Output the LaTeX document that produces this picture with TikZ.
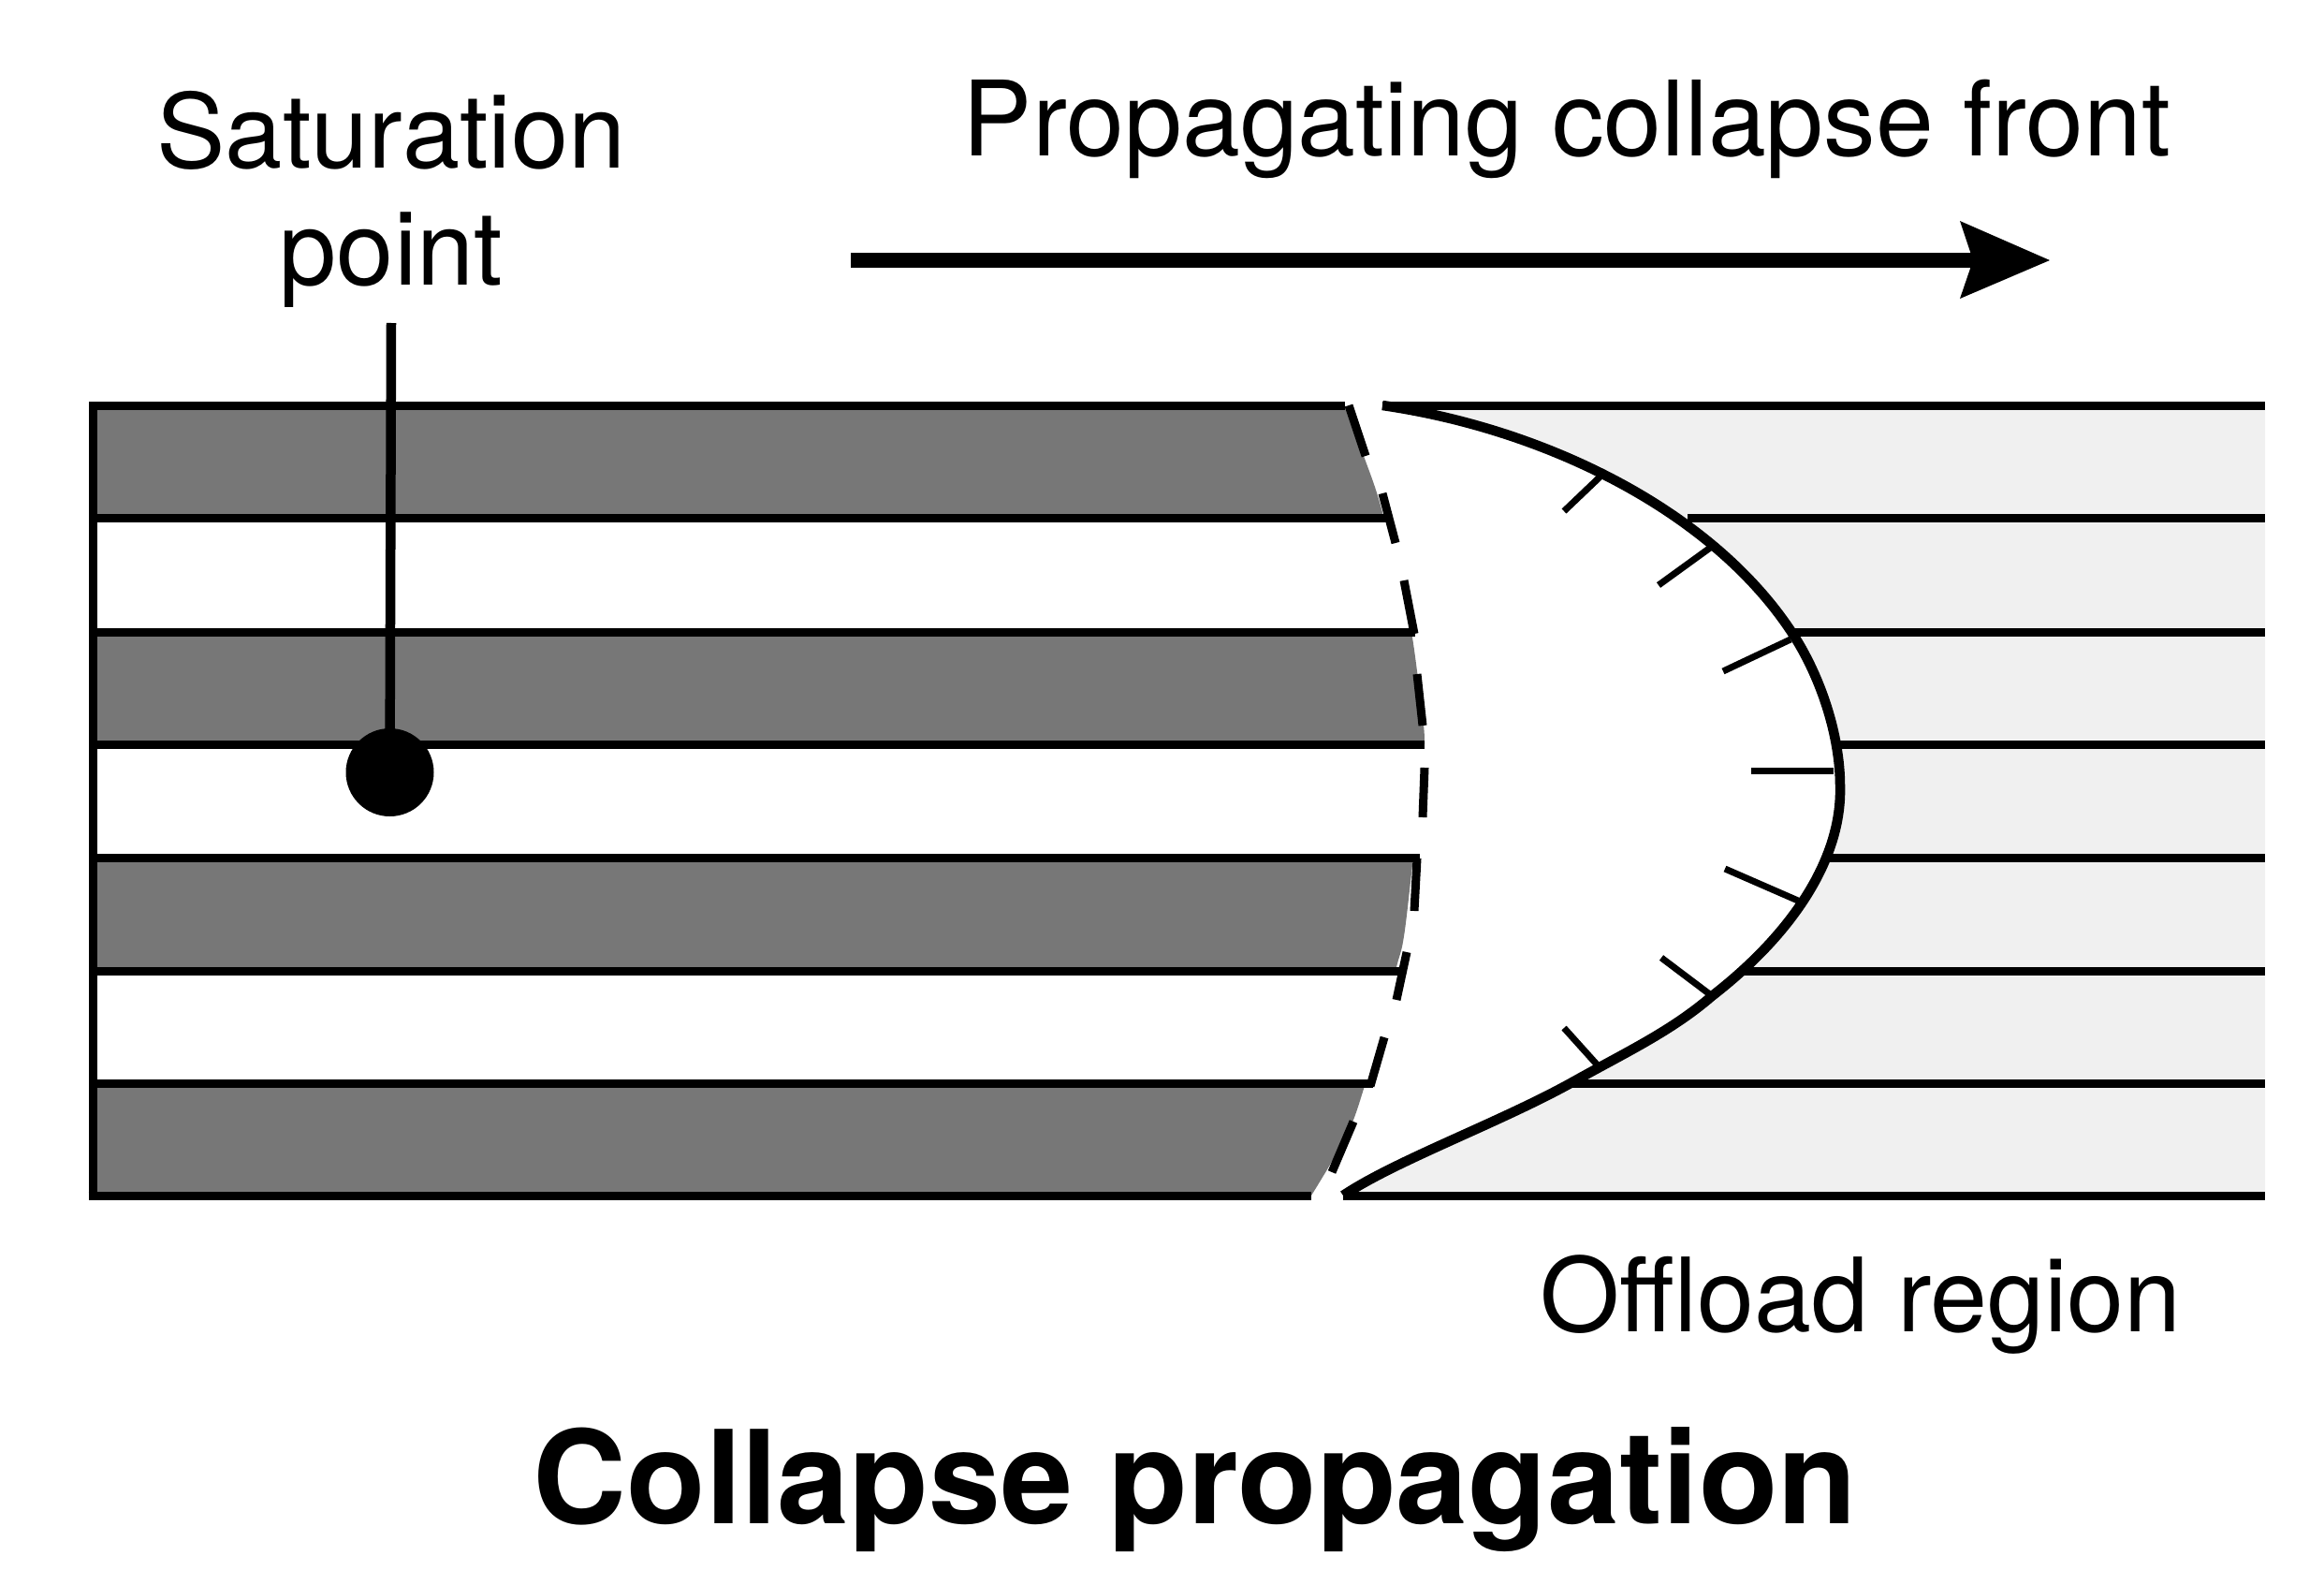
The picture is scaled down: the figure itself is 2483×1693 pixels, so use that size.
\documentclass[tikz,border=0pt]{standalone}
\usepackage{fontspec}
\setmainfont{TeX Gyre Heros}
\tikzset{
  lab/.style={inner sep=0pt,font=\fontsize{110}{130}\selectfont,align=center,text=black},
  ttl/.style={inner sep=0pt,font=\fontsize{138.3}{160}\selectfont\bfseries,text=black},
  band/.style={line width=9pt,draw=black},
  dsh/.style={line width=9pt,draw=black},
  tickm/.style={line width=7pt,draw=black},
}
\definecolor{darkband}{HTML}{777777}
\definecolor{lightband}{HTML}{F0F0F0}
\newcommand{\frontcurve}{(1477,433) .. controls (1650,458) and (1830,545) .. (1916,678) .. controls (1945,723) and (1966,785) .. (1966,840) .. controls (1968,915) and (1918,995) .. (1829,1064) .. controls (1785,1102) and (1735,1125) .. (1678,1157) .. controls (1600,1200) and (1490,1240) .. (1435,1277)}
\begin{document}
\begin{tikzpicture}[x=1pt,y=-1pt]
\useasboundingbox (0,0) rectangle (2483,1693);
% light region
\fill[lightband] \frontcurve -- (2420,1277) -- (2420,433) -- cycle;
% dark bands, cut off along the retreating edge
\begin{scope}
\clip (0,433) -- plot[smooth,tension=0.6] coordinates {(1437,433) (1457,487) (1475,540) (1497,630) (1508,675) (1518,750) (1522,795) (1518,860) (1510,916) (1500,1000) (1491,1037) (1470,1125) (1459,1157) (1440,1210) (1401,1277)} -- (0,1277) -- cycle;
\fill[darkband] (99,433) rectangle (1600,553);
\fill[darkband] (99,675) rectangle (1600,795);
\fill[darkband] (99,916) rectangle (1600,1037);
\fill[darkband] (99,1157) rectangle (1600,1277);
\end{scope}
% left lines
\draw[band] (1437,433) -- (94.5,433);
\draw[band] (99,433) -- (99,1281.5);
\draw[band] (99,553) -- (1482,553);
\draw[band] (99,675) -- (1512,675);
\draw[band] (99,795) -- (1522,795);
\draw[band] (99,916) -- (1517,916);
\draw[band] (99,1037) -- (1497,1037);
\draw[band] (99,1157) -- (1467,1157);
\draw[band] (94.5,1277) -- (1401,1277);
% right lines
\draw[band] (1477,433) -- (2420,433);
\draw[band] (1803,553) -- (2420,553);
\draw[band] (1915,675) -- (2420,675);
\draw[band] (1958,795) -- (2420,795);
\draw[band] (1950,916) -- (2420,916);
\draw[band] (1862,1037) -- (2420,1037);
\draw[band] (1680,1157) -- (2420,1157);
\draw[band] (1435,1277) -- (2420,1277);
% dashed retreat line
\draw[dsh] (1441,433) -- (1459,487);
\draw[dsh] (1477,527) -- (1491,580);
\draw[dsh] (1500,620) -- (1511,677);
\draw[dsh] (1514,720) -- (1520,775);
\draw[dsh] (1522,820) -- (1520,873);
\draw[dsh] (1514,917) -- (1511,973);
\draw[dsh] (1503,1017) -- (1492,1068);
\draw[dsh] (1479,1108) -- (1464,1160);
\draw[dsh] (1446,1198) -- (1423,1252);
% front
\draw[line width=10.5pt,line join=round] \frontcurve;
% ticks
\draw[tickm] (1714,505) -- (1671,546);
\draw[tickm] (1830,583) -- (1772,625);
\draw[tickm] (1913,683) -- (1841,717);
\draw[tickm] (1959,823) -- (1871,823);
\draw[tickm] (1921,962) -- (1843,928);
\draw[tickm] (1828,1063) -- (1775,1023);
\draw[tickm] (1707,1138) -- (1671,1098);
% saturation point
\node[circle,fill=black,inner sep=0pt,minimum size=94pt] (dot) at (416.5,825) {};
\coordinate (stem) at (418,345);
\draw[line width=10.5pt] (stem) -- (dot.center);
% arrow
\coordinate (as) at (909,278);
\coordinate (ae) at (2120,278);
\draw[line width=16pt] (as) -- (ae);
\fill (2190,278) -- (2094,236) -- (2108,278) -- (2094,319) -- cycle;
% text
\node[lab] (sat) at (418,213) {Saturation\\[-5pt]point};
\node[lab,anchor=base,font=\fontsize{111.2}{130}\selectfont] (prop) at (1674,167) {Propagating collapse front};
\node[lab,anchor=base,font=\fontsize{109.6}{130}\selectfont] (off) at (1988,1422) {Offload region};
\node[ttl,anchor=base] (title) at (1277,1627) {Collapse propagation};
\end{tikzpicture}
\end{document}
